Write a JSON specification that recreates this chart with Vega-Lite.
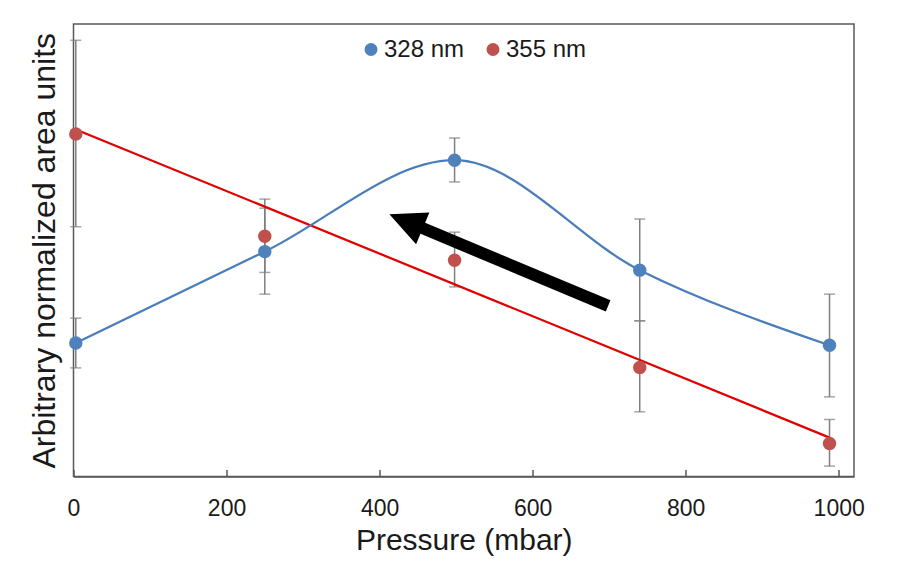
{
  "$schema": "https://vega.github.io/schema/vega-lite/v6.json",
  "width": 780.5,
  "height": 452.5,
  "autosize": {"type": "none"},
  "padding": {"left": 73.5, "top": 24, "right": 51, "bottom": 93.5},
  "background": "white",
  "config": {
    "font": "Liberation Sans",
    "view": {"stroke": "#595959", "strokeWidth": 1.5}
  },
  "datasets": {
    "pts": [
      {"s": "328 nm", "x": 3, "y": 29.5, "lo": 24.0, "hi": 35.0},
      {"s": "328 nm", "x": 250, "y": 49.7, "lo": 40.3, "hi": 59.3},
      {"s": "328 nm", "x": 498, "y": 69.9, "lo": 65.1, "hi": 74.8},
      {"s": "328 nm", "x": 740, "y": 45.6, "lo": 34.4, "hi": 56.9},
      {"s": "328 nm", "x": 988, "y": 29.0, "lo": 17.6, "hi": 40.3},
      {"s": "355 nm", "x": 3, "y": 75.7, "lo": 55.2, "hi": 96.4},
      {"s": "355 nm", "x": 250, "y": 53.1, "lo": 45.1, "hi": 61.3},
      {"s": "355 nm", "x": 498, "y": 47.8, "lo": 41.9, "hi": 54.0},
      {"s": "355 nm", "x": 740, "y": 24.1, "lo": 14.3, "hi": 34.4},
      {"s": "355 nm", "x": 988, "y": 7.3, "lo": 2.3, "hi": 12.6}
    ],
    "trend": [
      {"x": 3, "y": 76.7},
      {"x": 988, "y": 8.6}
    ],
    "shaft": [
      {"x": 698.7, "y": 37.7, "x2": 450.3, "y2": 55.3}
    ],
    "head": [
      {"x": 434.6, "y": 56.4}
    ]
  },
  "encoding": {
    "x": {
      "field": "x", "type": "quantitative",
      "scale": {"domain": [0, 1020], "nice": false, "zero": false},
      "axis": {
        "title": "Pressure (mbar)",
        "values": [0, 200, 400, 600, 800, 1000],
        "format": "d",
        "labelFlush": false,
        "grid": false,
        "domainColor": "#595959", "domainWidth": 1.5,
        "tickColor": "#595959", "tickWidth": 1.5, "tickSize": -7,
        "labelFontSize": 23, "labelColor": "#1a1a1a", "labelPadding": 28,
        "labelFont": "Liberation Sans",
        "titleFontSize": 30, "titleFontWeight": "normal", "titleColor": "#1a1a1a",
        "titleFont": "Liberation Sans", "titlePadding": 5
      }
    },
    "y": {
      "field": "y", "type": "quantitative",
      "scale": {"domain": [0, 100], "nice": false, "zero": false},
      "axis": {
        "title": "Arbitrary normalized area units",
        "labels": false, "ticks": false, "domain": false, "grid": false,
        "titleFontSize": 32, "titleFontWeight": "normal", "titleColor": "#1a1a1a",
        "titleFont": "Liberation Sans", "titlePadding": 12
      }
    }
  },
  "layer": [
    {
      "data": {"name": "pts"},
      "mark": {
        "type": "errorbar",
        "color": "#7f7f7f",
        "thickness": 1.5,
        "ticks": {"size": 11, "thickness": 1.5, "color": "#7f7f7f"}
      },
      "encoding": {
        "y": {"field": "lo", "type": "quantitative", "title": "Arbitrary normalized area units"},
        "y2": {"field": "hi"}
      }
    },
    {
      "data": {"name": "trend"},
      "mark": {"type": "line", "color": "#E00000", "strokeWidth": 2.25}
    },
    {
      "data": {"name": "pts"},
      "transform": [{"filter": "datum.s == '328 nm'"}],
      "mark": {"type": "line", "color": "#4A7EBB", "strokeWidth": 2.25, "interpolate": "monotone"}
    },
    {
      "data": {"name": "pts"},
      "mark": {"type": "point", "filled": true, "opacity": 1, "size": 180, "shape": "circle", "strokeWidth": 0},
      "encoding": {
        "color": {
          "field": "s", "type": "nominal",
          "scale": {"domain": ["328 nm", "355 nm"], "range": ["#4F81BD", "#C0504D"]},
          "legend": {
            "title": null,
            "orient": "none",
            "legendX": 285.5,
            "legendY": 13.5,
            "direction": "horizontal",
            "symbolType": "circle",
            "symbolSize": 169,
            "symbolStrokeWidth": 0,
            "labelFontSize": 24,
            "labelFont": "Liberation Sans",
            "labelColor": "#1a1a1a",
            "labelOffset": 1,
            "columnPadding": 16,
            "padding": 0
          }
        }
      }
    },
    {
      "data": {"name": "shaft"},
      "mark": {"type": "rule", "color": "black", "strokeWidth": 12, "strokeCap": "butt"},
      "encoding": {
        "x2": {"field": "x2"},
        "y2": {"field": "y2"}
      }
    },
    {
      "data": {"name": "head"},
      "mark": {
        "type": "point",
        "shape": "M-1,0L1,-0.95L1,0.95Z",
        "size": 1310,
        "angle": 22.75,
        "filled": true,
        "fill": "black",
        "opacity": 1,
        "strokeWidth": 0
      }
    }
  ]
}
